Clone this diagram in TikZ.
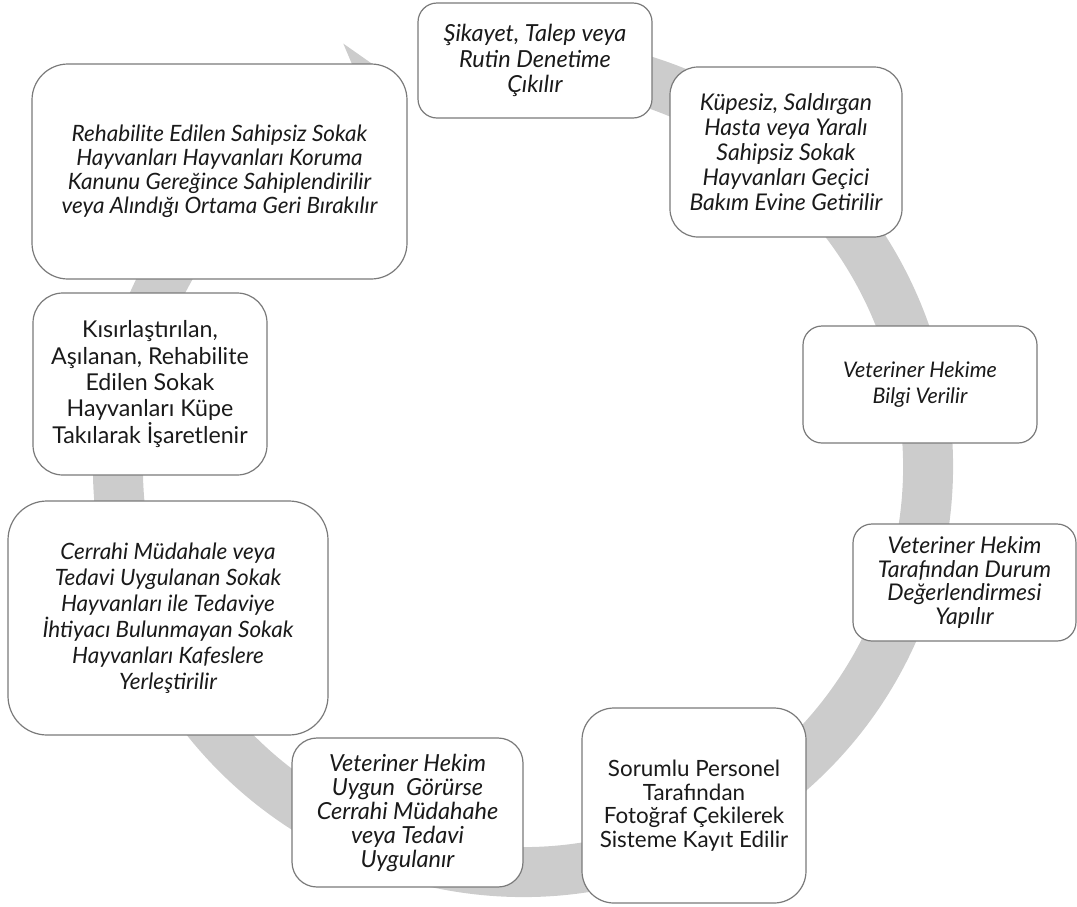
\documentclass[tikz,border=0pt]{standalone}
\usepackage{fontspec}
\setmainfont{Lato}
\usepackage{tikz}
\usetikzlibrary{positioning}
\definecolor{Edge}{HTML}{7A7A7A}
\definecolor{Band}{HTML}{CCCCCC}
\definecolor{Ink}{HTML}{1A1A1A}
\tikzset{
  card/.style={draw=Edge,fill=white,line width=1.2pt,align=center,inner sep=0pt,text=Ink},
  txt/.style 2 args={font=\fontsize{#1}{#2}\selectfont\itshape},
  txtup/.style 2 args={font=\fontsize{#1}{#2}\selectfont},
  ring/.style={fill=Band,draw=none}
}

\begin{document}
\begin{tikzpicture}[x=1pt,y=-1pt]
  \useasboundingbox (0,0) rectangle (1077,906);
  % cycle arrow
  \begin{scope}[shift={(523,467)},x=1pt,y=1pt]
    \fill[ring] (80:430) arc[start angle=80,end angle=-247,radius=430]
      -- (-247:460) -- (-252:405) -- (-247:350) -- (-247:380)
      arc[start angle=-247,end angle=80,radius=380] -- cycle;
  \end{scope}
  \node[card,txt={23.5}{25.7},minimum width=234pt,minimum height=115pt,rounded corners=19pt] (sikayet) at (535,60.5)
    {Şikayet, Talep veya\\Rutin Denetime\\Çıkılır};
  \node[card,txt={23}{25},minimum width=232pt,minimum height=170pt,rounded corners=28pt] (kupesiz) at (786,152)
    {Küpesiz, Saldırgan\\Hasta veya Yaralı\\Sahipsiz Sokak\\Hayvanları Geçici\\Bakım Evine Getirilir};
  \node[card,txt={21.5}{26},minimum width=234pt,minimum height=117pt,rounded corners=19pt] (bilgi) at (920,384.5)
    {Veteriner Hekime\\Bilgi Verilir};
  \node[card,txt={23}{23.5},minimum width=223pt,minimum height=117pt,rounded corners=19pt] (durum) at (964.5,582.5)
    {Veteriner Hekim\\Tarafından Durum\\Değerlendirmesi\\Yapılır};
  \node[card,txtup={22.4}{23.5},minimum width=224pt,minimum height=195pt,rounded corners=32pt] (kayit) at (694,805.5)
    {Sorumlu Personel\\Tarafından\\Fotoğraf Çekilerek\\Sisteme Kayıt Edilir};
  \node[card,txt={23.5}{24},minimum width=231pt,minimum height=149pt,rounded corners=25pt] (tedavi) at (407.5,812.5)
    {Veteriner Hekim\\Uygun\ \ Görürse\\Cerrahi Müdahahe\\veya Tedavi\\Uygulanır};
  \node[card,txt={22.5}{26},minimum width=320pt,minimum height=234pt,rounded corners=39pt] (kafes) at (168,618)
    {Cerrahi Müdahale veya\\Tedavi Uygulanan Sokak\\Hayvanları ile Tedaviye\\İhtiyacı Bulunmayan Sokak\\Hayvanları Kafeslere\\Yerleştirilir};
  \node[card,txtup={23.2}{26.3},minimum width=234pt,minimum height=182pt,rounded corners=30pt] (kupe) at (150,384)
    {Kısırlaştırılan,\\Aşılanan, Rehabilite\\Edilen Sokak\\Hayvanları Küpe\\Takılarak İşaretlenir};
  \node[card,txt={22.5}{24},minimum width=375pt,minimum height=215pt,rounded corners=36pt] (sahip) at (219.5,171.5)
    {Rehabilite Edilen Sahipsiz Sokak\\Hayvanları Hayvanları Koruma\\Kanunu Gereğince Sahiplendirilir\\veya Alındığı Ortama Geri Bırakılır};
\end{tikzpicture}
\end{document}
